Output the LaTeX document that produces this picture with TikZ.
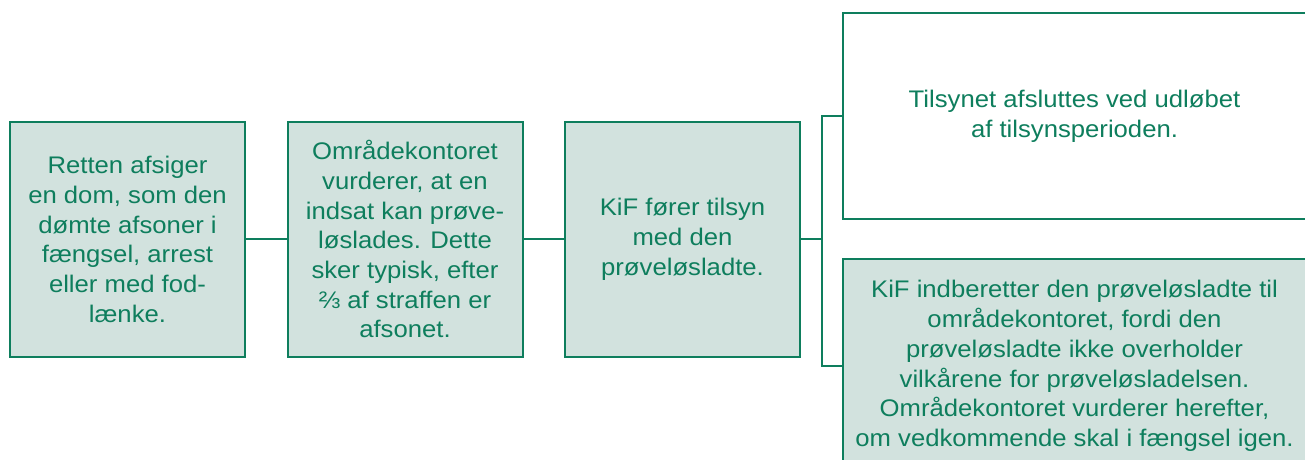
\documentclass[tikz,border=0pt]{standalone}
\usepackage{fontspec}
\setmainfont[FakeStretch=1.07]{Liberation Sans}
\definecolor{kgreen}{HTML}{0E7E5D}
\definecolor{kfill}{HTML}{D2E2DE}
\tikzset{
  box/.style={draw=kgreen, line width=2pt, fill=kfill, text=kgreen, align=center,
    font=\fontsize{24}{29.7}\selectfont, inner sep=0pt, minimum width=235pt, minimum height=235pt},
  conn/.style={draw=kgreen, line width=2pt}
}
\begin{document}
\begin{tikzpicture}[x=1pt,y=-1pt]
\useasboundingbox (0,0) rectangle (1305,459);
\clip (0,0) rectangle (1305,459);
\node[box] (a) at (127.5,239.3) {Retten afsiger\\en dom, som den\\dømte afsoner i\\fængsel, arrest\\eller med fod-\\lænke.};
\node[box] (b) at (405,239.3) {Områdekontoret\\vurderer, at en\\indsat kan prøve-\\løslades. Dette\\sker typisk, efter\\⅔ af straffen er\\afsonet.};
\node[box] (c) at (682.5,239.3) {KiF fører tilsyn\\med den\\prøveløsladte.};
\node[box, fill=white, minimum width=463pt, minimum height=206pt] (d) at (1074.5,116) {Tilsynet afsluttes ved udløbet\\af tilsynsperioden.};
\node[box, minimum width=463pt, minimum height=214pt] (e) at (1074.5,366) {KiF indberetter den prøveløsladte til\\områdekontoret, fordi den\\prøveløsladte ikke overholder\\vilkårene for prøveløsladelsen.\\Områdekontoret vurderer herefter,\\om vedkommende skal i fængsel igen.};
\coordinate (j) at (822,239.3);
\draw[conn] (a.east) -- (b.west);
\draw[conn] (b.east) -- (c.west);
\draw[conn] (c.east) -- (j);
\draw[conn] (d.west) -- (d.west -| j) -- (e.west -| j) -- (e.west);
\end{tikzpicture}
\end{document}
